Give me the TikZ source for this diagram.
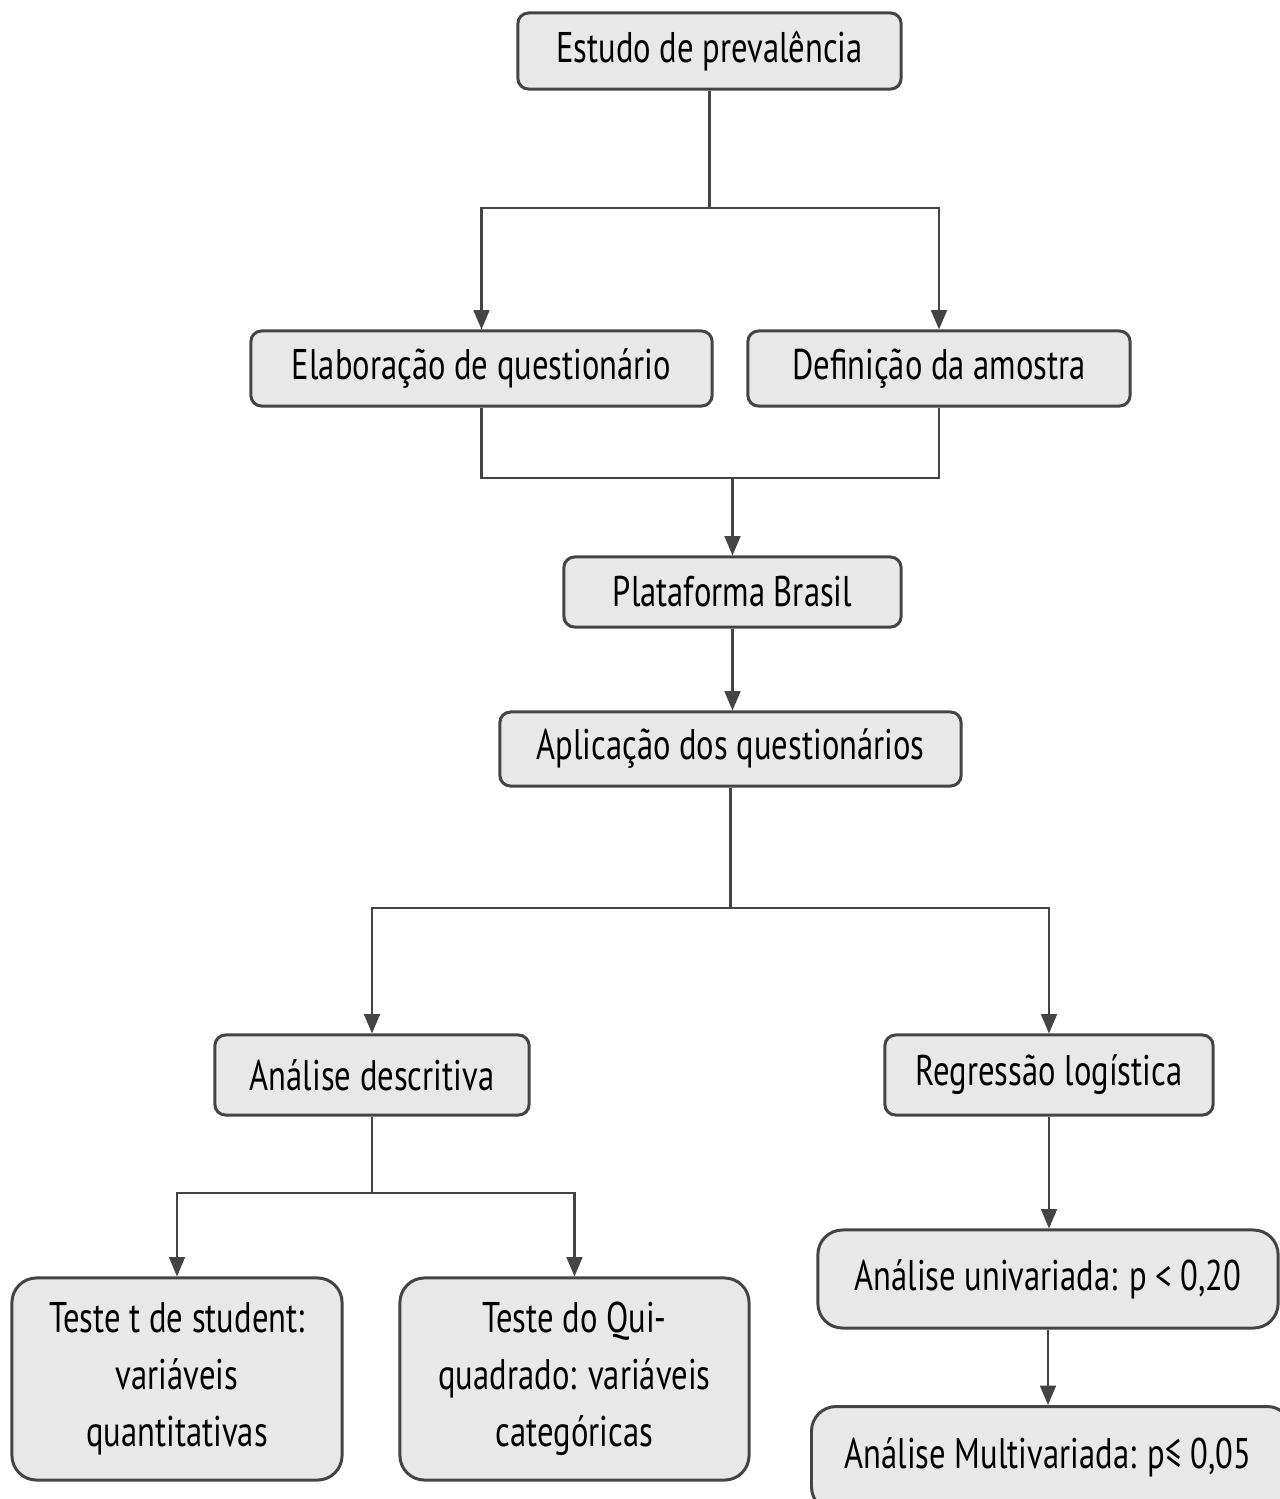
\documentclass[tikz,border=0pt]{standalone}
\usepackage{fontspec}
\setmainfont{PT Sans}[FakeStretch=0.76]
\usepackage{tikz}
\usetikzlibrary{arrows.meta}

\definecolor{boxfill}{HTML}{E8E8E8}
\definecolor{boxline}{HTML}{444444}

\tikzset{
  etapa/.style={draw=boxline, fill=boxfill, line width=0.85pt, rounded corners=3pt,
    font=\fontsize{12.2}{16.2}\selectfont, align=center, inner sep=0pt},
  etapagrande/.style={etapa, rounded corners=7pt},
  liga/.style={draw=boxline, line width=0.6pt},
  seta/.style={liga, -{Triangle[length=5.5pt, width=4.5pt]}}
}

\begin{document}
\begin{tikzpicture}[x=0.01cm, y=-0.01cm]
  \useasboundingbox (0, 0) rectangle (1280, 1499);
  \begin{scope}
  \clip (0, 0) rectangle (1280, 1499);
  \node[etapa, minimum width=3.83cm, minimum height=0.76cm] (estudo) at (709.5, 51) {Estudo de prevalência};
  \node[etapa, minimum width=4.61cm, minimum height=0.75cm] (quest) at (481.5, 368.5) {Elaboração de questionário};
  \node[etapa, minimum width=3.82cm, minimum height=0.75cm] (amostra) at (939, 368.5) {Definição da amostra};
  \node[etapa, minimum width=3.37cm, minimum height=0.70cm] (plataforma) at (732.5, 592) {Plataforma Brasil};
  \node[etapa, minimum width=4.61cm, minimum height=0.74cm] (aplicacao) at (730.5, 749) {Aplicação dos questionários};
  \node[etapa, minimum width=3.14cm, minimum height=0.80cm] (descritiva) at (372, 1075) {Análise descritiva};
  \node[etapa, minimum width=3.28cm, minimum height=0.80cm] (regressao) at (1049, 1075) {Regressão logística};
  \node[etapagrande, minimum width=3.30cm, minimum height=2.02cm] (student) at (177, 1379) {Teste t de student:\\ variáveis\\ quantitativas};
  \node[etapagrande, minimum width=3.49cm, minimum height=2.02cm] (quiquad) at (574.5, 1379) {Teste do Qui-\\ quadrado: variáveis\\ categóricas};
  \node[etapagrande, minimum width=4.60cm, minimum height=0.98cm] (univar) at (1048, 1279) {Análise univariada: p < 0,20};
  \node[etapagrande, minimum width=4.80cm, minimum height=1.05cm, anchor=north west] (multivar) at (810, 1405) {};
  \node[font=\fontsize{12.2}{16.2}\selectfont] (multitxt) at (1048, 1457) {Análise Multivariada: p≤ 0,05};

  % ligacoes
  \coordinate (c1) at (709.5, 208);
  \draw[liga] (estudo.south) -- (c1);
  \draw[seta] (c1) -| (quest.north);
  \draw[seta] (c1) -| (amostra.north);

  \coordinate (c2) at (732.5, 478);
  \draw[liga] (quest.south) |- (c2);
  \draw[liga] (amostra.south) |- (c2);
  \draw[seta] (c2) -- (plataforma.north);

  \draw[seta] (plataforma.south) -- (plataforma.south |- aplicacao.north);

  \coordinate (c3) at (730.5, 908);
  \draw[liga] (aplicacao.south) -- (c3);
  \draw[seta] (c3) -| (descritiva.north);
  \draw[seta] (c3) -| (regressao.north);

  \coordinate (c4) at (372, 1193);
  \draw[liga] (descritiva.south) -- (c4);
  \draw[seta] (c4) -| (student.north);
  \draw[seta] (c4) -| (quiquad.north);

  \draw[seta] (regressao.south) -- (regressao.south |- univar.north);
  \draw[seta] (univar.south) -- (univar.south |- multivar.north);
  \end{scope}
\end{tikzpicture}
\end{document}
